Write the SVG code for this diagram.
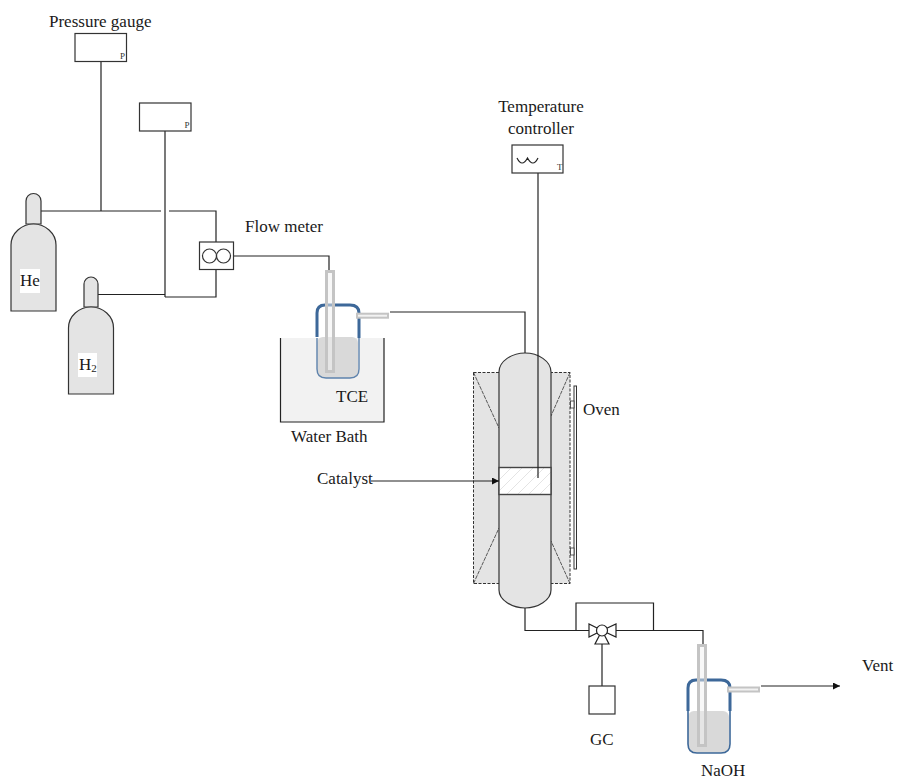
<svg xmlns="http://www.w3.org/2000/svg" width="897" height="781" viewBox="0 0 897 781">
<style>
text{font-family:"Liberation Serif","Times New Roman",serif;font-size:17px;fill:#1a1a1a}
.sm{font-size:9px;fill:#333}
.ln{fill:none;stroke:#222;stroke-width:1.2}
.box{fill:#fff;stroke:#333;stroke-width:1.2}
.gas{fill:#e4e4e4;stroke:#333;stroke-width:1.2}
.tube{fill:#f2f2f2;stroke:#c4c4c4;stroke-width:3}
.side{fill:#f2f2f2;stroke:#c4c4c4;stroke-width:2}
.glass{fill:none;stroke:#3d6899;stroke-width:3}
.liq{fill:#d9d9d9}
.dash{fill:none;stroke:#333;stroke-width:1;stroke-dasharray:3 1.5}
</style>
<defs>
<marker id="arr" markerWidth="8" markerHeight="8" refX="7" refY="3.5" orient="auto" markerUnits="userSpaceOnUse"><path d="M0 0L7 3.5L0 7Z" fill="#111"/></marker>
<pattern id="hatch" width="11" height="11" patternUnits="userSpaceOnUse"><rect width="11" height="11" fill="#fff"/><path d="M-1 12L12 -1" stroke="#ddd" stroke-width="0.8"/></pattern>
</defs>
<g id="connectors">
<path class="ln" d="M101 61V211M41 211H161M169 211H216V242M216 269.500V297H165M98 294.500H165M165 131V297"/>
<path class="ln" d="M233.500 256H329V271"/>
<path class="ln" d="M390 312H525V353"/>
<path class="ln" d="M538 173V353"/>
<path class="ln" d="M525 607V630.500H589M616 630.500H703V645M576 630.500V603H653.500V630.500"/>
<path class="ln" d="M602 644V686"/>
<path class="ln" d="M761 686H840" marker-end="url(#arr)"/>
</g>
<g id="gauge1"><rect class="box" x="75" y="33.500" width="51.500" height="28"/><text class="sm" x="120" y="59">P</text></g>
<g id="gauge2"><rect class="box" x="139.500" y="103" width="51.500" height="28"/><text class="sm" x="184.500" y="128">P</text></g>
<text x="49" y="27">Pressure gauge</text>
<g id="he-cylinder">
<path class="gas" d="M26 224V201a7.500 7.500 0 0 1 15 0V224Z"/>
<path class="gas" d="M11 311V245C11 233 22 224 33.500 224S56 233 56 245V311Z"/>
<rect x="20" y="269" width="20" height="24" fill="#fff"/><text x="20" y="286">He</text>
</g>
<g id="h2-cylinder">
<path class="gas" d="M84 307V284a7 7 0 0 1 14 0V307Z"/>
<path class="gas" d="M68.500 394V328C68.500 316 79 307 91 307S113.500 316 113.500 328V394Z"/>
<rect x="78" y="353" width="19" height="24" fill="#fff"/><text x="79" y="370">H<tspan font-size="11" dy="2">2</tspan></text>
</g>
<g id="flow-meter">
<rect class="box" x="199.500" y="242" width="34" height="27.500"/>
<circle cx="209.500" cy="256" r="7" fill="none" stroke="#333" stroke-width="1.200"/><circle cx="223.500" cy="256" r="7" fill="none" stroke="#333" stroke-width="1.200"/>
</g>
<text x="245" y="232">Flow meter</text>
<g id="water-bath">
<rect x="280.500" y="338" width="103.500" height="84" fill="#f2f2f2"/>
<path class="ln" d="M280.500 338V422H384V338"/>
<text x="291" y="442">Water Bath</text>
</g>
<g id="tce-vial">
<rect class="liq" x="317" y="337" width="41" height="41" rx="6"/>
<path class="glass" d="M317 337V313Q317 305 325 305H350Q359 305 359 313V338"/>
<path d="M317 338V369Q317 378 326 378H350Q359 378 359 369V338" fill="none" stroke="#5e83ad" stroke-width="1.400"/>
<rect class="tube" x="326.500" y="271.500" width="7" height="100" fill-opacity="0.5"/>
<rect class="side" x="357" y="313.700" width="31" height="4"/>
<text x="336" y="402">TCE</text>
</g>
<g id="oven">
<rect x="473.500" y="372.500" width="96.500" height="211" fill="#e4e4e4"/>
<rect class="dash" x="473.500" y="372.500" width="96.500" height="211"/>
<path fill="none" stroke="#333" stroke-width="0.800" stroke-dasharray="4 1" d="M473.500 372.500L499 428M570 372.500L551 416M473.500 583.500L499 528M570 583.500L551 541"/>
<rect x="574" y="386" width="2.500" height="183" fill="#fff" stroke="#333"/>
<rect x="570.500" y="401" width="3.500" height="7" fill="#fff" stroke="#333" stroke-width="0.800"/>
<rect x="570.500" y="548" width="3.500" height="7" fill="#fff" stroke="#333" stroke-width="0.800"/>
<text x="583" y="415">Oven</text>
</g>
<g id="column">
<path class="gas" d="M499 372C499 361 512 353 525 353S551 361 551 372V590C551 600 538 608 525 608S499 600 499 590Z"/>
<rect x="499" y="467.500" width="52" height="27" fill="url(#hatch)" stroke="#444" stroke-width="1.400"/>
<path class="ln" d="M538 353V478"/>
</g>
<text x="317" y="484">Catalyst</text>
<path class="ln" d="M371 481H499" marker-end="url(#arr)"/>
<g id="temperature-controller">
<rect class="box" x="512" y="145" width="51" height="28"/>
<path fill="none" stroke="#222" stroke-width="1.200" d="M517 158Q522 168 527.500 158Q533 168 538 158"/>
<text class="sm" x="557" y="169.500">T</text>
<text x="541" y="112" text-anchor="middle">Temperature</text>
<text x="541" y="134" text-anchor="middle">controller</text>
</g>
<g id="valve" fill="#fff" stroke="#222" stroke-width="1.200">
<path d="M589 624V637L602 630.500ZM616 624V637L602 630.500ZM602 630.500L595 644H609Z"/>
<circle cx="602" cy="630.500" r="5.500"/>
</g>
<g id="gc"><rect class="box" x="589" y="686" width="26" height="28"/><text x="590" y="745">GC</text></g>
<g id="naoh-vial">
<rect class="liq" x="688" y="711" width="41" height="42" rx="6"/>
<path class="glass" d="M688 711V688Q688 680 696 680H721Q730 680 730 688V711"/>
<path d="M688 711V744Q688 753 697 753H721Q730 753 730 744V711" fill="none" stroke="#3d6899" stroke-width="1.600"/>
<rect class="tube" x="698.500" y="645.500" width="7" height="100" fill-opacity="0.5"/>
<rect class="side" x="728" y="687.500" width="31" height="4"/>
<text x="701" y="776">NaOH</text>
</g>
<text x="862" y="671">Vent</text>
</svg>
